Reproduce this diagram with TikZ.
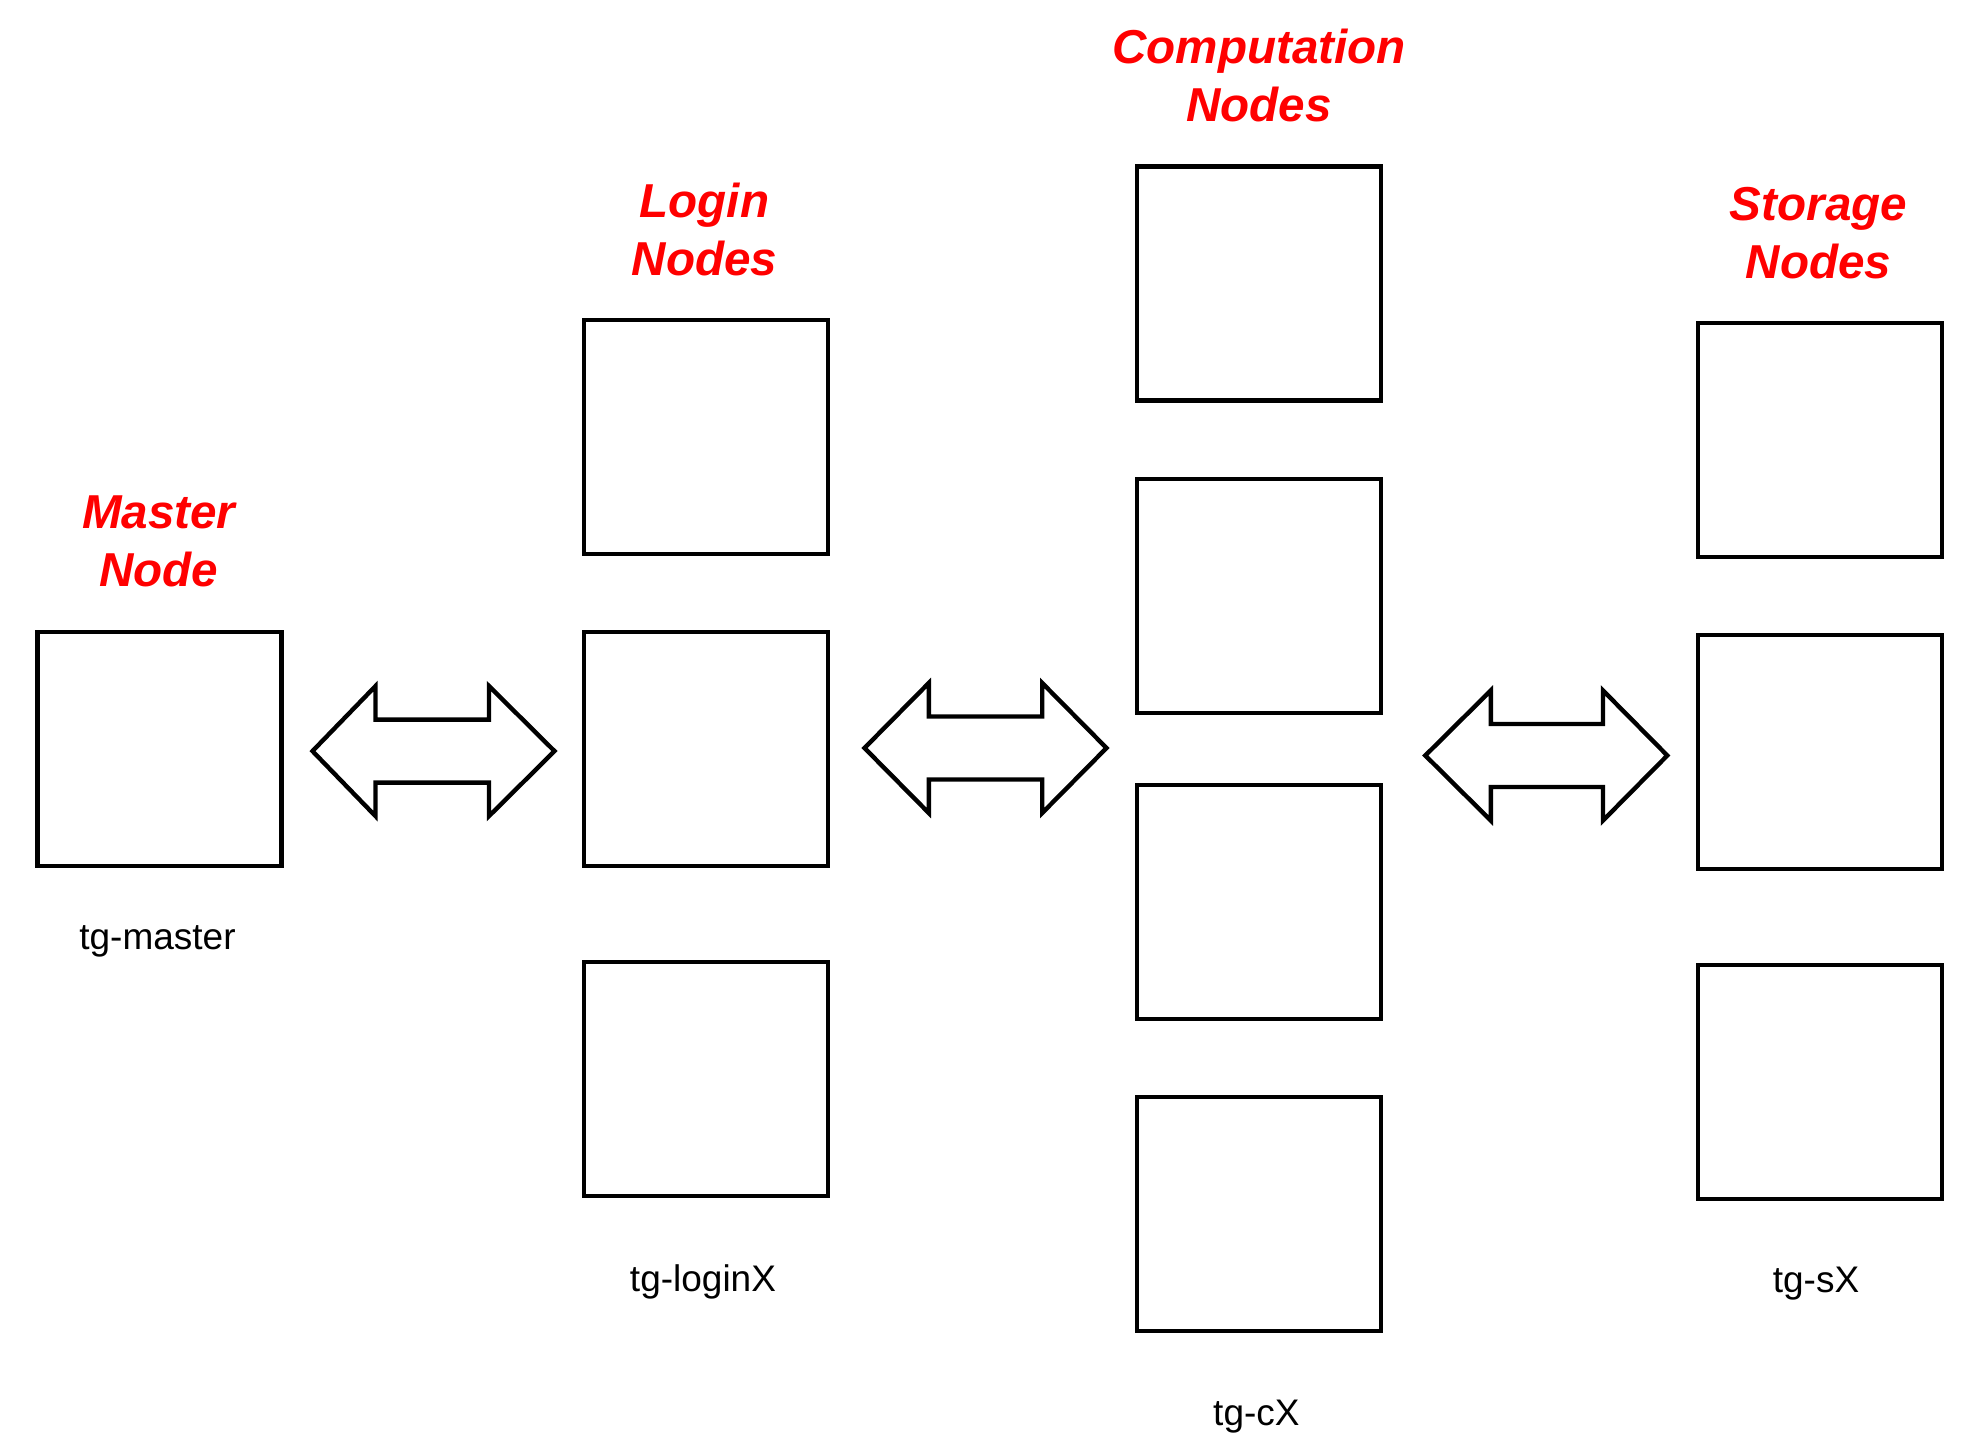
\documentclass[tikz,border=0pt]{standalone}
\usepackage{fontspec}
\setmainfont{Liberation Sans}
\begin{document}
\begin{tikzpicture}[x=0.5pt,y=-0.5pt,
  srv/.style={draw=black,line width=2.2pt,fill=white,minimum width=122pt,minimum height=117pt,inner sep=0pt},
  ttl/.style={text=red,font=\fontsize{23.8}{29}\selectfont\bfseries\itshape,align=center,inner sep=0pt},
  lbl/.style={text=black,font=\fontsize{18.5}{22}\selectfont,inner sep=0pt},
  barrow/.style={draw=black,line width=2.2pt,fill=white,line join=miter}]
\useasboundingbox (0,0) rectangle (1976,1455);
% boxes
\node[srv] (m)  at (159.4,749.2) {};
\node[srv] (l1) at (705.7,437.2) {};
\node[srv] (l2) at (705.7,749.2) {};
\node[srv] (l3) at (705.7,1078.7) {};
\node[srv] (c1) at (1259,283.5) {};
\node[srv] (c2) at (1259,596.1) {};
\node[srv] (c3) at (1259,902.2) {};
\node[srv] (c4) at (1259,1214.2) {};
\node[srv] (s1) at (1819.7,439.8) {};
\node[srv] (s2) at (1819.7,752.2) {};
\node[srv] (s3) at (1819.7,1081.7) {};
% titles
\node[ttl] (tm) at (158.8,541.6) {Master\\Node};
\node[ttl] (tl) at (704.4,229) {Login\\Nodes};
\node[ttl] (tc) at (1259,76) {Computation\\Nodes};
\node[ttl] (ts) at (1818.5,233) {Storage\\Nodes};
% labels
\node[lbl] (lm) at (157.5,941) {tg-master};
\node[lbl] (ll) at (703,1281.6) {tg-loginX};
\node[lbl] (lc) at (1256.4,1416.4) {tg-cX};
\node[lbl] (ls) at (1816,1284) {tg-sX};
% double block arrows
\newcommand{\blockarrow}[5]{%
  \draw[barrow] (#1,#5) -- (#2,#5-65) -- (#2,#5-31.5) -- (#3,#5-31.5) -- (#3,#5-65)
    -- (#4,#5) -- (#3,#5+65) -- (#3,#5+31.5) -- (#2,#5+31.5) -- (#2,#5+65) -- cycle;}
\blockarrow{312.5}{375.5}{489}{554.5}{751.1}
\blockarrow{864.5}{928.8}{1042.2}{1106.5}{748}
\blockarrow{1425.3}{1490.8}{1603}{1667.3}{755.5}
\end{tikzpicture}
\end{document}
